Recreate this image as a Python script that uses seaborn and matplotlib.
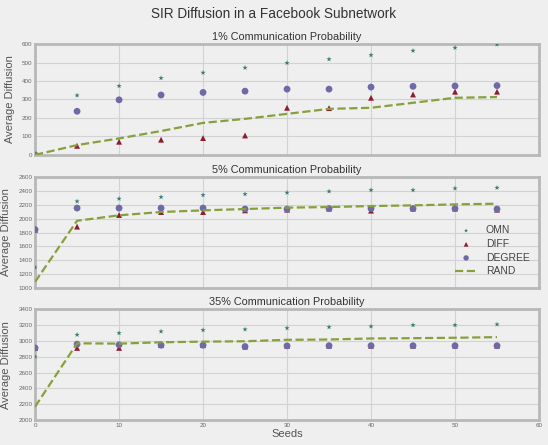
import matplotlib
matplotlib.use("Agg")
import matplotlib.pyplot as plt
import seaborn as sns
import numpy as np

seeds = [0, 5, 10, 15, 20, 25, 30, 35, 40, 45, 50, 55]
titles = ["1% Communication Probability", "5% Communication Probability", "35% Communication Probability"]

omn_1 = [0, 322, 373, 416, 445, 472, 498, 518, 540, 564, 580, 598]
diff_1 = [0, 49, 71, 82, 91, 105, 255, 253, 309, 327, 342, 342]
degree_1 = [0, 236, 298, 324, 338, 345, 356, 356, 367, 371, 373, 375]
rand_1 = [0, 53, 89, 129, 173, 195, 222, 249, 255, 282, 309, 313]

omn_5 = [1295, 2250, 2288, 2312, 2341, 2355, 2375, 2394, 2413, 2413, 2437, 2447]
diff_5 = [1840, 1885, 2053, 2096, 2096, 2120, 2130, 2146, 2116, 2146, 2146, 2130]
degree_5 = [1842, 2153, 2153, 2153, 2153, 2139, 2139, 2146, 2146, 2146, 2146, 2139]
rand_5 = [1087, 1970, 2048, 2096, 2120, 2139, 2159, 2168, 2182, 2192, 2206, 2216]

omn_35 = [2800, 3078, 3099, 3120, 3137, 3146, 3162, 3175, 3184, 3200, 3200, 3209]
diff_35 = [2910, 2912, 2912, 2947, 2947, 2929, 2938, 2940, 2940, 2940, 2940, 2940]
degree_35 = [2912, 2959, 2951, 2947, 2947, 2929, 2938, 2940, 2940, 2940, 2940, 2940]
rand_35 = [2170, 2970, 2966, 2983, 2991, 2996, 3014, 3018, 3031, 3035, 3040, 3048]

series = [
    (omn_1, diff_1, degree_1, rand_1),
    (omn_5, diff_5, degree_5, rand_5),
    (omn_35, diff_35, degree_35, rand_35),
]
ylims = [(0, 600, 100), (1000, 2600, 200), (2000, 3400, 200)]

sns.set_style("whitegrid", {
    "axes.facecolor": "#efefef",
    "figure.facecolor": "#efefef",
    "axes.edgecolor": "#b8b8b8",
    "grid.color": "#d2d2d2",
    "axes.linewidth": 2.0,
})
plt.rcParams["font.family"] = ["Liberation Sans", "DejaVu Sans"]

c_omn = "#3b7a72"
c_diff = "#8e1b30"
c_deg = "#6e6aa6"
c_rand = "#86a03c"

fig = plt.figure(figsize=(5.48, 4.45), dpi=100)
fig.patch.set_facecolor("#efefef")
bottoms = [0.652, 0.353, 0.056]
height = 0.249
axes = [fig.add_axes([0.064, b, 0.9196, height]) for b in bottoms]

for i, ax in enumerate(axes):
    omn, diff, deg, rand = series[i]
    sns.scatterplot(x=seeds, y=omn, marker="*", s=16, color=c_omn, edgecolor="none",
                    ax=ax, label="OMN", zorder=3)
    sns.scatterplot(x=seeds, y=diff, marker="^", s=18, color=c_diff, edgecolor="none",
                    ax=ax, label="DIFF", zorder=3)
    sns.scatterplot(x=seeds, y=deg, marker="o", s=24, color=c_deg, edgecolor="none",
                    ax=ax, label="DEGREE", zorder=3)
    sns.lineplot(x=seeds, y=rand, color=c_rand, linestyle="--", linewidth=1.6,
                 ax=ax, label="RAND", zorder=4)
    lo, hi, step = ylims[i]
    ax.set_ylim(lo, hi)
    ax.set_yticks(np.arange(lo, hi + 1, step))
    ax.set_xlim(0, 60)
    ax.set_xticks(np.arange(0, 61, 10))
    ax.tick_params(axis="both", labelsize=4.5, colors="#666666", length=0, pad=2)
    ax.set_ylabel("Average Diffusion", fontsize=8, color="#555555", labelpad=5)
    ax.set_title(titles[i], fontsize=7.8, color="#333333", pad=3)
    if i < 2:
        ax.set_xticklabels([])
        ax.set_xlabel("")
    else:
        ax.set_xlabel("Seeds", fontsize=8, color="#555555", labelpad=1)
    if i == 1:
        leg = ax.legend(loc="lower right", frameon=False, fontsize=7.5,
                        bbox_to_anchor=(1.0, 0.02), handlelength=2.2,
                        labelspacing=0.35, markerscale=0.8)
        for t in leg.get_texts():
            t.set_color("#444444")
    else:
        ax.get_legend().remove()
    for sp in ax.spines.values():
        sp.set_color("#b8b8b8")
        sp.set_linewidth(2.0)
    ax.grid(True, color="#d2d2d2", linewidth=0.8)

fig.suptitle("SIR Diffusion in a Facebook Subnetwork", fontsize=9.8, color="#333333", y=0.985)
fig.savefig("out.png", dpi=100, facecolor=fig.get_facecolor())
